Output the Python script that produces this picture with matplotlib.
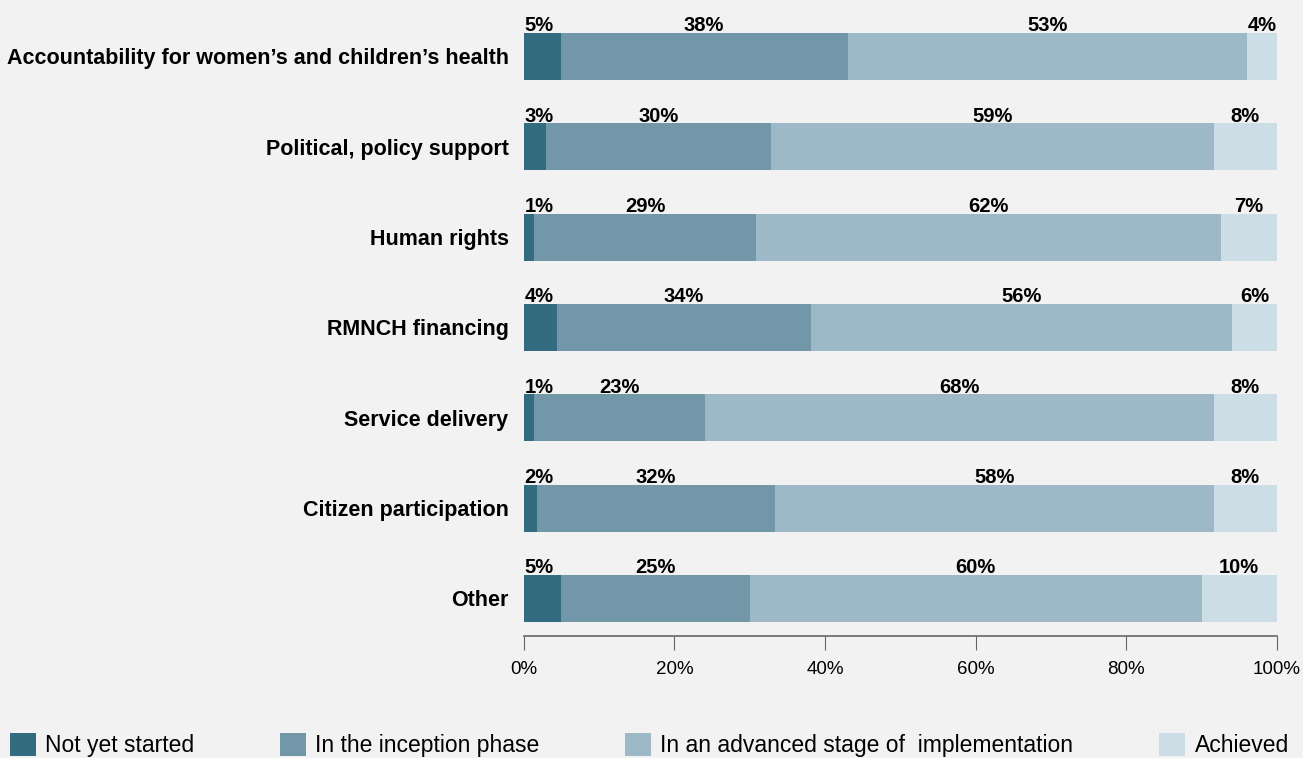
import matplotlib.pyplot as plt
from matplotlib.ticker import PercentFormatter

# ---------------------------------------------------------------------------
# Data (percent of respondents)
# ---------------------------------------------------------------------------
categories = [
    "Accountability for women\u2019s and children\u2019s health",
    "Political, policy support",
    "Human rights",
    "RMNCH financing",
    "Service delivery",
    "Citizen participation",
    "Other",
]
not_started = [4.9, 2.9, 1.4, 4.4, 1.4, 1.7, 5.0]
inception = [38.1, 29.9, 29.4, 33.7, 22.6, 31.6, 25.0]
advanced = [53.0, 58.8, 61.8, 55.9, 67.6, 58.3, 60.0]
achieved = [4.0, 8.4, 7.4, 6.0, 8.4, 8.4, 10.0]

series_names = ["Not yet started", "In the inception phase",
                "In an advanced stage of  implementation", "Achieved"]
colors = ["#336b80", "#7297a9", "#9db8c6", "#cddde6"]
BG = "#f2f2f2"

plt.rcParams['font.family'] = ['Liberation Sans', 'DejaVu Sans']

fig = plt.figure(figsize=(13.03, 7.58), dpi=100, facecolor=BG)
ax = fig.add_axes([0.402, 0.161, 0.578, 0.839])
ax.set_facecolor(BG)

ypos = list(range(len(categories)))
left = [0.0] * len(categories)
bar_h = 0.52
for name, vals, col in zip(series_names, [not_started, inception, advanced, achieved], colors):
    ax.barh(ypos, vals, left=left, height=bar_h, color=col, label=name)
    for i, (l, v) in enumerate(zip(left, vals)):
        txt = "%d%%" % round(v)
        y = i - bar_h / 2 + 0.025
        if l == 0:
            ax.text(l + 0.1, y, txt, ha='left', va='bottom', fontsize=14.5,
                    fontweight='bold')
        else:
            ax.text(l + v / 2, y, txt, ha='center', va='bottom', fontsize=14.5,
                    fontweight='bold')
    left = [a + b for a, b in zip(left, vals)]

ax.set_xlim(0, 100)
ax.set_ylim(6.415, -0.625)
ax.set_yticks(ypos)
ax.set_yticklabels(categories, fontsize=15.5, fontweight='bold')
ax.tick_params(axis='y', length=0, pad=11)
ax.set_xticks([0, 20, 40, 60, 80, 100])
ax.xaxis.set_major_formatter(PercentFormatter(decimals=0))
ax.tick_params(axis='x', length=10, color='#666666', labelsize=13.5, pad=8)

for s in ['top', 'right', 'left']:
    ax.spines[s].set_visible(False)
ax.spines['bottom'].set_color('#666666')
ax.spines['bottom'].set_linewidth(1.2)

fig.legend(loc='lower left', bbox_to_anchor=(0.0077, 0.001), ncol=4,
           frameon=False, fontsize=16.5, handlelength=1.13, handleheight=1.13,
           handletextpad=0.4, columnspacing=3.75, borderaxespad=0, borderpad=0)

plt.savefig('out.png', dpi=100, facecolor=BG)
